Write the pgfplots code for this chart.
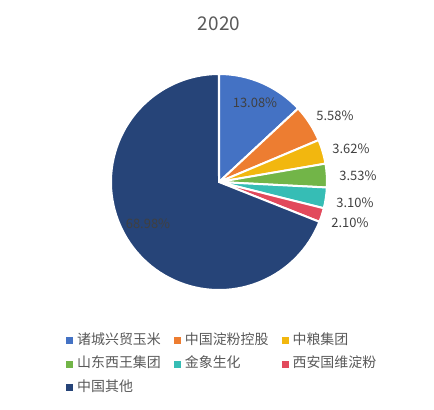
\documentclass[border=0pt]{standalone}
\usepackage{pgfplots}
\pgfplotsset{compat=1.18}
\usepackage{pgfplotstable}
\usepackage{fontspec}
\setmainfont{Noto Sans CJK SC}

\definecolor{c0}{HTML}{4472C4}
\definecolor{c1}{HTML}{ED7D31}
\definecolor{c2}{HTML}{F2B70F}
\definecolor{c3}{HTML}{72B548}
\definecolor{c4}{HTML}{36BDB5}
\definecolor{c5}{HTML}{E24A5C}
\definecolor{c6}{HTML}{264478}
\definecolor{labgray}{HTML}{404040}
\definecolor{txtgray}{HTML}{595959}

% share in percent, label position in pixels (y up)
\pgfplotstableread[col sep=comma]{
name,share,lx,ly
诸城兴贸玉米,13.08,255,307
中国淀粉控股,5.58,335,294
中粮集团,3.62,351,261
山东西王集团,3.53,358,234
金象生化,3.10,355,207
西安国维淀粉,2.10,350,187
中国其他,68.98,148,186
}\piedata

\begin{document}
\begin{tikzpicture}
\begin{axis}[
    scale only axis,
    width=434bp, height=410bp,
    xmin=0, xmax=434, ymin=0, ymax=410,
    hide axis, clip=false,
    legend columns=3,
    legend cell align=left,
    legend image code/.code={\fill[#1] (0bp,-3.5bp) rectangle (7bp,3.5bp);},
    legend style={
        at={(axis cs:66,77)}, anchor=north west,
        draw=none, fill=none, inner sep=0pt,
        font=\fontsize{14}{16}\selectfont, text=txtgray,
        row sep=8.5bp,
        nodes={inner sep=1bp, text height=10bp, text depth=3bp},
        /tikz/every odd column/.append style={column sep=3bp},
        /tikz/every even column/.append style={column sep=12bp},
    },
]
\path (axis cs:0,0) rectangle (axis cs:434,410);
\def\cum{0}
\pgfplotsforeachungrouped \k in {0,...,6}{%
    \pgfplotstablegetelem{\k}{share}\of\piedata \let\v\pgfplotsretval
    \pgfplotstablegetelem{\k}{name}\of\piedata \let\nm\pgfplotsretval
    \pgfplotstablegetelem{\k}{lx}\of\piedata \let\lx\pgfplotsretval
    \pgfplotstablegetelem{\k}{ly}\of\piedata \let\ly\pgfplotsretval
    \pgfmathsetmacro\sa{90-3.6*\cum}
    \pgfmathsetmacro\cum{\cum+\v}
    \pgfmathsetmacro\ea{90-3.6*\cum}
    \pgfmathsetmacro\px{219+108*cos(\sa)}
    \pgfmathsetmacro\py{228+108*sin(\sa)}
    \edef\tmp{%
        \noexpand\fill[c\k, draw=white, line width=2bp]
            (axis cs:219,228) -- (axis cs:\px,\py)
            arc[start angle=\sa, end angle=\ea, radius=108] -- cycle;
        \noexpand\node[text=labgray, font=\noexpand\fontsize{13}{15}\noexpand\selectfont]
            at (axis cs:\lx,\ly) {\v\noexpand\%};
        \noexpand\addlegendimage{fill=c\k, draw=none}
        \noexpand\addlegendentry{\nm}
    }\tmp
}
\node[text=txtgray, font=\fontsize{19}{22}\selectfont] at (axis cs:219,386.5) {2020};
\end{axis}
\end{tikzpicture}
\end{document}
